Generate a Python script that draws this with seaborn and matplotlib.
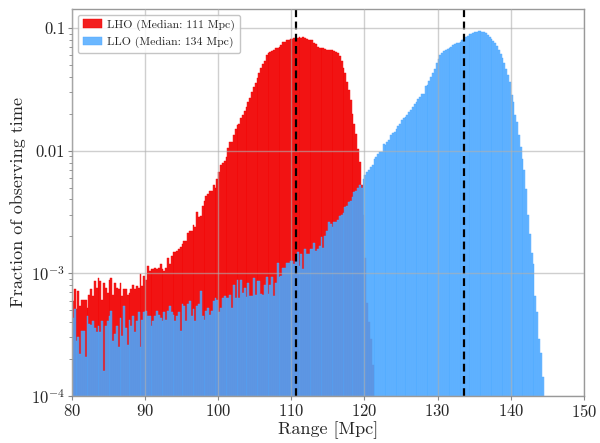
import numpy as np
import pandas as pd
import matplotlib
matplotlib.use('Agg')
import matplotlib.pyplot as plt
import seaborn as sns

# ── Data (fraction of observing time per 0.25 Mpc bin, in units of 1e-4) ─────
BIN_WIDTH = 0.25
RANGE_START = 80.0

# one row per Mpc (four bins), starting at 80 Mpc
lho_vals = [
    5.9, 7.4, 5.1, 7.2,   5.4, 6.1, 6.1, 6.1,   5.2, 6.7, 7.4, 6.5,
    8.65, 7.6, 9.2, 8.65, 6.1, 8.4, 7.6, 6.9,   8.9, 9.2, 6.7, 8.4,
    7.6, 7.4, 8.4, 6.5,   7.4, 7.4, 6.7, 6.9,   7.4, 8.1, 7.4, 7.9,
    7.6, 9.8, 7.9, 9.5,   8.9, 11.5, 10.4, 10.8, 10.8, 11.1, 10.8, 11.1,
    11.9, 10.8, 10.4, 11.1, 13.4, 11.9, 13.9, 14.8, 14.8, 15.2, 15.7, 16.5,
    17.3, 18.4, 18.2, 21.5, 22.2, 22.0, 25.0, 23.7, 31.4, 28.6, 29.6, 35.6,
    39.2, 43.0, 44.0, 47.3, 47.0, 52.0, 50.0, 59.0, 67.0, 76.0, 80.0, 83.0,
    89.0, 105.0, 118.0, 117.0, 134.0, 150.0, 161.0, 166.0,
    183.0, 195.0, 212.0, 228.0, 251.0, 270.0, 299.0, 327.0,
    355.0, 390.0, 430.0, 470.0, 510.0, 540.0, 600.0, 620.0,
    635.0, 650.0, 665.0, 680.0, 685.0, 700.0, 730.0, 770.0,
    775.0, 790.0, 800.0, 810.0, 815.0, 820.0, 830.0, 835.0,
    840.0, 835.0, 840.0, 825.0, 815.0, 800.0, 800.0, 790.0,
    760.0, 735.0, 700.0, 690.0, 685.0, 690.0, 670.0, 660.0,
    655.0, 660.0, 665.0, 650.0, 640.0, 620.0, 590.0, 540.0,
    470.0, 430.0, 360.0, 310.0, 260.0, 200.0, 165.0, 137.0,
    104.0, 81.0, 52.0, 30.0, 13.4, 5.7, 4.0, 2.9,
    1.8,
]

llo_vals = [
    4.3, 5.1, 2.8, 3.0,   2.2, 3.4, 3.4, 2.1,   4.5, 3.9, 3.8, 4.1,
    3.6, 3.3, 3.7, 3.3,   4.1, 1.6, 3.7, 4.1,   4.5, 4.9, 2.8, 3.2,
    3.7, 2.5, 4.3, 3.1,   5.4, 3.6, 2.6, 4.2,   3.7, 4.5, 3.3, 4.1,
    4.8, 2.5, 4.2, 4.8,   4.9, 4.5, 4.5, 3.7,   4.1, 4.5, 4.9, 4.6,
    4.3, 4.1, 4.8, 4.2,   4.9, 5.4, 4.8, 4.6,   4.1, 4.5, 4.8, 3.4,
    5.6, 5.4, 4.1, 5.6,   5.9, 4.5, 5.1, 4.1,   5.4, 5.6, 7.2, 4.5,
    4.2, 4.9, 5.2, 4.6,   4.9, 5.9, 6.3, 6.1,   4.8, 5.2, 6.3, 6.5,
    6.3, 6.3, 6.7, 5.2,   8.0, 6.3, 8.9, 6.3,   8.9, 6.9, 7.6, 6.4,
    8.3, 6.5, 6.5, 9.2,   6.6, 8.7, 8.7, 6.8,   6.6, 8.0, 9.4, 6.8,
    8.0, 9.4, 6.5, 8.4,   12.2, 9.4, 9.6, 11.1, 11.1, 12.2, 12.2, 12.6,
    12.6, 11.9, 12.6, 14.8, 11.5, 14.3, 10.8, 15.7, 14.3, 14.3, 15.7, 15.7,
    17.8, 15.2, 15.7, 16.7, 19.6, 16.2, 20.0, 22.2, 26.0, 25.2, 23.7, 26.0,
    26.0, 27.0, 29.5, 30.0, 31.0, 34.5, 35.5, 38.0, 39.0, 42.0, 46.0, 47.0,
    50.0, 52.0, 50.0, 59.0, 63.0, 67.0, 69.0, 73.0, 77.0, 85.0, 89.0, 94.0,
    97.0, 97.0, 114.0, 112.0, 118.0, 122.0, 134.0, 138.0,
    142.0, 150.0, 158.0, 166.0, 177.0, 183.0, 189.0, 195.0,
    205.0, 214.0, 225.0, 240.0, 248.0, 262.0, 272.0, 288.0,
    292.0, 335.0, 345.0, 370.0, 395.0, 430.0, 460.0, 520.0,
    560.0, 597.0, 620.0, 645.0, 655.0, 670.0, 690.0, 705.0,
    725.0, 740.0, 752.0, 760.0, 770.0, 790.0, 805.0, 840.0,
    860.0, 885.0, 895.0, 905.0, 920.0, 935.0, 940.0, 940.0,
    935.0, 925.0, 905.0, 880.0, 845.0, 810.0, 780.0, 750.0,
    710.0, 665.0, 615.0, 565.0, 515.0, 465.0, 410.0, 360.0,
    284.0, 250.0, 194.0, 172.0, 133.0, 107.0, 86.0, 69.0,
    49.0, 30.0, 21.0, 14.7, 11.9, 6.5, 4.8, 2.9,
    2.25, 1.44,
]

medians = {'LHO': 110.7, 'LLO': 133.6}
labels = {'LHO': 'LHO (Median: 111 Mpc)', 'LLO': 'LLO (Median: 134 Mpc)'}
colors = {'LHO': '#f20000', 'LLO': '#4aa8ff'}
alphas = {'LHO': 0.88, 'LLO': 0.82}

y_ticks = [1e-4, 1e-3, 1e-2, 1e-1]
y_ticklabels = [r'$10^{-4}$', r'$10^{-3}$', '0.01', '0.1']


def to_frame(vals):
    vals = np.asarray(vals) * 1e-4
    left = RANGE_START + BIN_WIDTH * np.arange(len(vals))
    return pd.DataFrame({'range': left + BIN_WIDTH / 2, 'frac': vals})


# ── Style ─────────────────────────────────────────────────────────────────────
sns.set_style('white')
plt.rcParams['font.family'] = ['serif']
plt.rcParams['font.serif'] = ['cmr10', 'DejaVu Serif']
plt.rcParams['mathtext.fontset'] = 'cm'
plt.rcParams['axes.formatter.use_mathtext'] = True

fig = plt.figure(figsize=(6.0, 4.43), dpi=100)
ax = fig.add_axes([0.12, 0.106, 0.853, 0.874])

for det, vals in [('LHO', lho_vals), ('LLO', llo_vals)]:
    df = to_frame(vals)
    end = RANGE_START + BIN_WIDTH * len(vals)
    sns.histplot(data=df, x='range', weights='frac', binwidth=BIN_WIDTH,
                 binrange=(RANGE_START, end), ax=ax,
                 color=colors[det], alpha=alphas[det], edgecolor=colors[det],
                 linewidth=0.3, label=labels[det])

ax.set_yscale('log')
for det in ['LHO', 'LLO']:
    ax.axvline(medians[det], color='black', ls='--', lw=1.6, dashes=(3.5, 2))

ax.set_xlim(80, 150)
ax.set_ylim(1e-4, 0.143)
ax.set_xticks(np.arange(80, 151, 10))
ax.set_yticks(y_ticks)
ax.set_yticklabels(y_ticklabels)
ax.grid(True, which='major', color='#b0b0b0', alpha=0.6, lw=1.0)
ax.set_axisbelow(False)

ax.tick_params(axis='both', which='major', labelsize=12, direction='out',
               length=3, color='#888888', pad=2)
ax.tick_params(axis='y', which='minor', direction='out', length=2,
               color='#888888', left=True)
ax.tick_params(bottom=True, left=True)
for sp in ax.spines.values():
    sp.set_color('#999999')
    sp.set_linewidth(1.0)

ax.set_xlabel('Range [Mpc]', fontsize=13, labelpad=1)
ax.set_ylabel('Fraction of observing time', fontsize=13, labelpad=4)

leg = ax.legend(loc='upper left', fontsize=8.5, frameon=True, fancybox=True,
                edgecolor='#bbbbbb', framealpha=0.85, borderaxespad=0.5,
                handlelength=1.6, handletextpad=0.5, borderpad=0.4)

fig.savefig('out.png', dpi=100)
